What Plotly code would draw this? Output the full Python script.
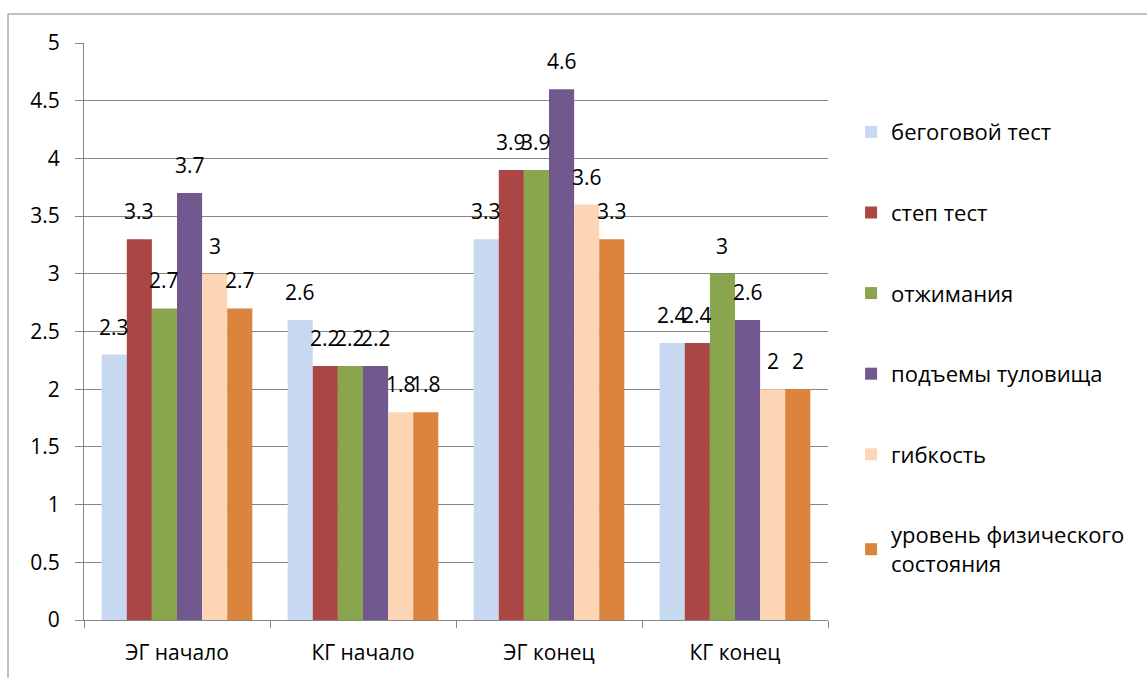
import plotly.graph_objects as go

categories = ["ЭГ начало", "КГ начало", "ЭГ конец", "КГ конец"]
series_names = ["бегоговой тест", "степ тест", "отжимания", "подъемы туловища",
                "гибкость", "уровень физического<br>состояния"]
run_test = [2.3, 2.6, 3.3, 2.4]
step_test = [3.3, 2.2, 3.9, 2.4]
pushups = [2.7, 2.2, 3.9, 3.0]
situps = [3.7, 2.2, 4.6, 2.6]
flexibility = [3.0, 1.8, 3.6, 2.0]
fitness_level = [2.7, 1.8, 3.3, 2.0]
y_ticks = [0, 0.5, 1, 1.5, 2, 2.5, 3, 3.5, 4, 4.5, 5]

series = [run_test, step_test, pushups, situps, flexibility, fitness_level]
colors = ["#C6D9F1", "#AA4643", "#89A54E", "#71588F", "#FCD5B5", "#DB843D"]

FONT = "Open Sans"
FS = 21
BARGAP = 0.19

fig = go.Figure()
for i, (name, vals) in enumerate(zip(series_names, series)):
    fig.add_trace(go.Bar(
        x=categories, y=vals, name=name, legendgroup=f"g{i}",
        marker=dict(color=colors[i], line=dict(width=0)),
    ))

# data labels, positioned from the bar group geometry
n = len(series)
w = (1 - BARGAP) / n
for i, vals in enumerate(series):
    off = -(1 - BARGAP) / 2 + (i + 0.5) * w
    for c, v in enumerate(vals):
        fig.add_annotation(x=c + off, y=v, xref="x", yref="y",
                           text=f"{v:g}", showarrow=False,
                           yanchor="middle", yshift=28,
                           font=dict(family=FONT, size=FS, color="#000000"))

fig.update_layout(
    width=1147, height=678,
    margin=dict(l=84, r=319, t=43, b=58),
    paper_bgcolor="white", plot_bgcolor="white",
    barmode="group", bargap=BARGAP, bargroupgap=0,
    font=dict(family=FONT, size=FS, color="#000000"),
    showlegend=True,
    legend=dict(x=1.031, xanchor="left", y=0.882, yanchor="top",
                traceorder="grouped", tracegroupgap=49,
                font=dict(family=FONT, size=22), itemwidth=30,
                bgcolor="rgba(0,0,0,0)"),
    xaxis=dict(type="category", showline=True, linecolor="#868686", linewidth=1,
               ticks="outside", tickson="boundaries", ticklen=7, tickcolor="#868686",
               ticklabelstandoff=14, showgrid=False),
    yaxis=dict(range=[0, 5], tickvals=y_ticks, ticktext=[f"{t:g}" for t in y_ticks],
               showline=True, linecolor="#868686", linewidth=1,
               ticks="outside", ticklen=8, tickcolor="#868686",
               ticklabelstandoff=11,
               showgrid=True, gridcolor="#868686", gridwidth=1, zeroline=False),
)

# outer chart border
fig.add_shape(type="rect", xref="paper", yref="paper",
              x0=(8 - 84) / 744, x1=2.0, y0=-1.0, y1=(620 - 14) / 577,
              line=dict(color="#868686", width=1), fillcolor="rgba(0,0,0,0)", layer="below")

fig.write_html("out.html")
